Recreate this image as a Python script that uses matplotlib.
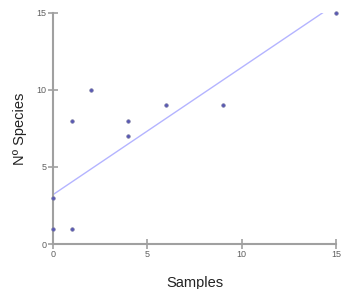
import matplotlib.pyplot as plt

# observed points
samples = [0, 0, 1, 1, 2, 4, 4, 6, 9, 15]
species = [1, 3, 1, 8, 10, 8, 7, 9, 9, 15]

# fitted trend line (end points)
fit_x = [0, 14.3]
fit_y = [3.2, 15]

ticks = [0, 5, 10, 15]

plt.rcParams['font.family'] = ['Liberation Sans', 'DejaVu Sans']

fig = plt.figure(figsize=(3.5, 2.89), dpi=100)
ax = fig.add_axes([53 / 350, 45 / 289, 283 / 350, 231.3 / 289])

ax.plot(fit_x, fit_y, color='#b4b4ff', linewidth=1.0, zorder=2)
ax.scatter(samples, species, s=7, color='#5a5ab4', edgecolors='#8080a0',
           linewidths=0.4, zorder=3, clip_on=False)

ax.set_xlim(0, 15)
ax.set_ylim(0, 15)
ax.set_xticks(ticks)
ax.set_yticks(ticks)

for side in ['top', 'right']:
    ax.spines[side].set_visible(False)
for side in ['left', 'bottom']:
    ax.spines[side].set_color('#a0a0a0')
    ax.spines[side].set_linewidth(1.5)

ax.tick_params(direction='inout', length=7, width=1.2, color='#a0a0a0',
               labelsize=6.5, labelcolor='#606060', pad=1)

ax.set_xlabel('Samples', fontsize=10.5, color='#222222', labelpad=12)
ax.set_ylabel('Nº Species', fontsize=10.5, color='#222222', labelpad=7)

fig.savefig('out.png', dpi=100)
